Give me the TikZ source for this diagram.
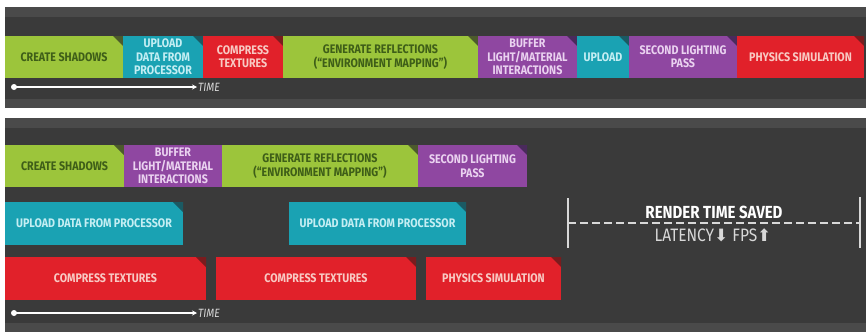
\documentclass[tikz,border=0pt]{standalone}
\usepackage{fontspec}
\setmainfont{Fira Sans}[FakeStretch=0.86]
\newfontfamily\symfont{DejaVu Sans}
\usetikzlibrary{arrows.meta}
\definecolor{panel}{HTML}{3A3A3A}
\definecolor{band}{HTML}{4A4A4A}
\definecolor{gr}{HTML}{9CC53B}
\definecolor{grd}{HTML}{4C5A2C}
\definecolor{grt}{HTML}{3E5E18}
\definecolor{cy}{HTML}{1AA2B3}
\definecolor{cyd}{HTML}{1B5A63}
\definecolor{cyt}{HTML}{C4EEF3}
\definecolor{rd}{HTML}{E1212A}
\definecolor{rdd}{HTML}{7A1C1E}
\definecolor{rdt}{HTML}{F8CAC4}
\definecolor{pu}{HTML}{8F47A1}
\definecolor{pud}{HTML}{4A2A5C}
\definecolor{put}{HTML}{EAD2F0}
\definecolor{lt}{HTML}{D8D8D8}
\tikzset{
  tbox/.style={anchor=north west, inner sep=0pt, outer sep=0pt, align=center,
    font=\fontsize{12.4}{13.4}\selectfont\bfseries},
  tline/.style={draw=white, line width=1.5pt, -{Stealth[length=5pt,width=5pt]}},
  timelbl/.style={anchor=west, inner sep=1pt, text=lt, font=\fontsize{12}{13}\selectfont\itshape},
  brk/.style={draw=lt, line width=1.4pt},
  brkd/.style={draw=lt, line width=1.4pt, dash pattern=on 8pt off 4pt},
}
% #1 name, #2 x, #3 y, #4 width, #5 height, #6 fill, #7 dark corner, #8 text colour, #9 text
\newcommand\tlbox[9]{%
  \node[tbox, fill=#6, text=#8, minimum width=#4pt, minimum height=#5pt] (#1) at (#2,#3) {#9};
  \fill[#7] ([xshift=-10pt]#1.north east) -- (#1.north east) -- ([yshift=-10pt]#1.north east) -- cycle;}
\begin{document}
\begin{tikzpicture}[x=1pt,y=-1pt]
\useasboundingbox (0,0) rectangle (866,332);
\fill[white] (0,0) rectangle (866,332);
% panels
\fill[panel] (5,7) rectangle (866,108);
\fill[band] (5,7) rectangle (866,17);
\fill[band] (5,99) rectangle (866,108);
\fill[panel] (5,118) rectangle (866,332);
\fill[band] (5,118) rectangle (866,128);
\fill[band] (5,323) rectangle (866,332);
% top row
\tlbox{a1}{5}{36}{118}{42}{gr}{grd}{grt}{CREATE SHADOWS}
\tlbox{a2}{123}{36}{80}{42}{cy}{cyd}{cyt}{UPLOAD\\DATA FROM\\PROCESSOR}
\tlbox{a3}{203}{36}{80}{42}{rd}{rdd}{rdt}{COMPRESS\\TEXTURES}
\tlbox{a4}{283}{36}{195}{42}{gr}{grd}{grt}{GENERATE REFLECTIONS\\(``ENVIRONMENT MAPPING'')}
\tlbox{a5}{478}{36}{99}{42}{pu}{pud}{put}{BUFFER\\LIGHT/MATERIAL\\INTERACTIONS}
\tlbox{a6}{577}{36}{52}{42}{cy}{cyd}{cyt}{UPLOAD}
\tlbox{a7}{629}{36}{108}{42}{pu}{pud}{put}{SECOND LIGHTING\\PASS}
\tlbox{a8}{737}{36}{127}{42}{rd}{rdd}{rdt}{PHYSICS SIMULATION}
% top timeline
\coordinate (t1s) at (14,87);
\coordinate (t1e) at (197,87);
\draw[tline] (t1s) -- (t1e);
\fill[white] (t1s) circle (3);
\node[timelbl] (time1) at (t1e) {TIME};
% bottom row 1
\tlbox{b1}{5}{145}{119}{42}{gr}{grd}{grt}{CREATE SHADOWS}
\tlbox{b2}{124}{145}{98}{42}{pu}{pu}{put}{BUFFER\\LIGHT/MATERIAL\\INTERACTIONS}
\tlbox{b3}{222}{145}{196}{42}{gr}{grd}{grt}{GENERATE REFLECTIONS\\(``ENVIRONMENT MAPPING'')}
\tlbox{b4}{418}{145}{109}{42}{pu}{pud}{put}{SECOND LIGHTING\\PASS}
% bottom row 2
\tlbox{c1}{5}{202}{178}{43}{cy}{cyd}{cyt}{UPLOAD DATA FROM PROCESSOR}
\tlbox{c2}{289}{202}{177}{43}{cy}{cyd}{cyt}{UPLOAD DATA FROM PROCESSOR}
% bottom row 3
\tlbox{d1}{5}{257}{201}{43}{rd}{rdd}{rdt}{COMPRESS TEXTURES}
\tlbox{d2}{216}{257}{200}{43}{rd}{rdd}{rdt}{COMPRESS TEXTURES}
\tlbox{d3}{426}{257}{135}{43}{rd}{rdd}{rdt}{PHYSICS SIMULATION}
% bottom timeline
\coordinate (t2s) at (14,313);
\coordinate (t2e) at (197,313);
\draw[tline] (t2s) -- (t2e);
\fill[white] (t2s) circle (3);
\node[timelbl] (time2) at (t2e) {TIME};
% render time saved bracket
\coordinate (l1) at (568,198);
\coordinate (l2) at (568,248);
\coordinate (r1) at (860,197);
\coordinate (r2) at (860,248);
\coordinate (lm) at (568,223);
\coordinate (rm) at (860,223);
\draw[brk] (l1) -- (l2);
\draw[brk] (r1) -- (r2);
\draw[brkd] (lm) -- (rm);
\node[text=white, font=\fontsize{17.5}{19}\selectfont\bfseries] (rts) at (714,212) {RENDER TIME SAVED};
\node[text=lt, font=\fontsize{18}{19}\selectfont] (lat) at (713,235) {LATENCY{\symfont\fontsize{17}{18}\selectfont ⬇} FPS{\symfont\fontsize{17}{18}\selectfont ⬆}};
\end{tikzpicture}
\end{document}
